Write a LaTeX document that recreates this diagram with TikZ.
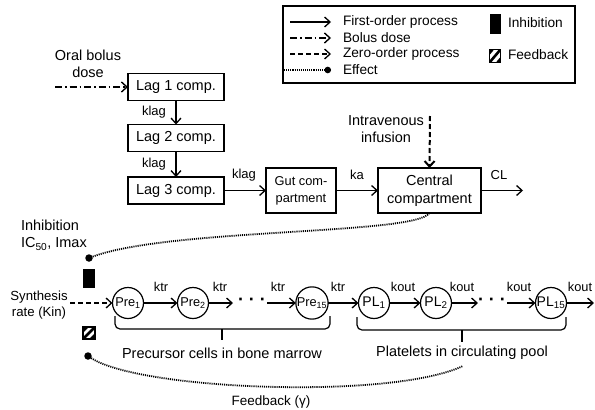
\documentclass[tikz,border=0pt]{standalone}
\usepackage{fontspec}
\setmainfont{Liberation Sans}
\usetikzlibrary{arrows.meta}
\begin{document}
\begin{tikzpicture}[x=1pt,y=-1pt,
  >={Straight Barb[length=5.5pt,width=10pt]},
  every node/.style={inner sep=0pt, outer sep=0pt},
  line/.style={line width=1.3pt},
  boxnode/.style={draw, line width=1.2pt, font=\fontsize{14.5}{18}\selectfont, align=center},
  circnode/.style={draw, circle, line width=1.2pt, minimum size=31pt, font=\fontsize{12.8}{14}\selectfont},
  ratelbl/.style={font=\fontsize{13}{15}\selectfont},
  smalllbl/.style={font=\fontsize{12.8}{14}\selectfont},
  txt/.style={font=\fontsize{14.5}{17.5}\selectfont, align=center},
  legtxt/.style={font=\fontsize{13.7}{15}\selectfont, anchor=west},
  bolus/.style={line width=1.4pt, dash pattern=on 7pt off 3pt on 1.5pt off 3pt},
  zero/.style={line width=1.3pt, dash pattern=on 5pt off 3pt},
  effect/.style={line width=1.8pt, dash pattern=on 1.1pt off 1pt},
  dotnode/.style={circle, fill=black, minimum size=7.5pt},
  hatchnode/.style={draw, line width=1.1pt, fill=white, minimum width=11pt, minimum height=13pt,
    path picture={
      \draw[line width=2.6pt] ([xshift=-8pt]path picture bounding box.south west) -- ([xshift=-8pt]path picture bounding box.north east);
      \draw[line width=2.6pt] (path picture bounding box.south west) -- (path picture bounding box.north east);
      \draw[line width=2.6pt] ([xshift=8pt]path picture bounding box.south west) -- ([xshift=8pt]path picture bounding box.north east);
    }},
]
\useasboundingbox (0,0) rectangle (595,410);

% ---------- legend ----------
\node[draw, line width=1.2pt, minimum width=292pt, minimum height=77pt, anchor=north west] (legend) at (283,6) {};
\coordinate (la1) at (290,22); \coordinate (lb1) at (331,22);
\coordinate (la2) at (290,38); \coordinate (lb2) at (331,38);
\coordinate (la3) at (290,54); \coordinate (lb3) at (331,54);
\coordinate (la4) at (284,70); \coordinate (lb4) at (331,70);
\draw[line,->] (la1) -- (lb1);
\draw[bolus,->] (la2) -- (lb2);
\draw[zero,->] (la3) -- (lb3);
\draw[effect,-{Circle[length=6.5pt]}] (la4) -- (lb4);
\node[legtxt] (lt1) at (343,22) {First-order process};
\node[legtxt] (lt2) at (343,38) {Bolus dose};
\node[legtxt] (lt3) at (343,54) {Zero-order process};
\node[legtxt] (lt4) at (343,70) {Effect};
\node[fill=black, minimum width=11pt, minimum height=20pt] (leginh) at (495,24) {};
\node[legtxt] (lt5) at (508,23) {Inhibition};
\node[hatchnode] (legfb) at (495,56) {};
\node[legtxt] (lt6) at (508,55) {Feedback};

% ---------- PK part ----------
\node[txt] (oral) at (88,64) {Oral bolus\\dose};
\coordinate (oralstart) at (55,87);
\node[boxnode, minimum width=96pt, minimum height=27pt] (lag1) at (176,87) {Lag 1 comp.};
\node[boxnode, minimum width=96pt, minimum height=27pt] (lag2) at (176,138) {Lag 2 comp.};
\node[boxnode, minimum width=96pt, minimum height=27pt] (lag3) at (176,190.5) {Lag 3 comp.};
\draw[bolus,->] (oralstart) -- (lag1.west);
\draw[line,->] (lag1) -- (lag2);
\draw[line,->] (lag2) -- (lag3);
\node[ratelbl] (kl1) at (154,112) {klag};
\node[ratelbl] (kl2) at (154,164) {klag};

\node[boxnode, minimum width=70pt, minimum height=45pt, font=\fontsize{12.8}{17}\selectfont] (gut) at (301,190.5) {Gut com-\\partment};
\node[boxnode, minimum width=103pt, minimum height=45pt] (central) at (429.5,190.5) {Central\\compartment};
\coordinate (clend) at (523,190.5);
\draw[line,->] (lag3) -- (gut);
\draw[line,->] (gut) -- (central);
\draw[line,->] (central) -- (clend);
\node[ratelbl] (kl3) at (244,175) {klag};
\node[ratelbl] (ka) at (357,175) {ka};
\node[ratelbl] (cl) at (499,175) {CL};

\node[txt] (iv) at (386,129) {Intravenous\\infusion};
\coordinate (ivstart) at (430,116);
\draw[zero, line width=2pt, ->] (ivstart) -- (central.north);

% ---------- effect ----------
\node[dotnode] (dot1) at (89,258) {};
\draw[effect] (central.south) .. controls (415,235) and (170,228) .. (dot1);
\node[txt, align=left, anchor=west] (inhtxt) at (21,235) {Inhibition\\IC\textsubscript{50}, Imax};
\node[fill=black, minimum width=12pt, minimum height=19pt] (inh) at (89,278.5) {};

% ---------- PD chain ----------
\node[txt, font=\fontsize{13.2}{15.5}\selectfont] (syn) at (39,305) {Synthesis\\rate (Kin)};
\coordinate (synstart) at (70,303);
\node[circnode] (pre1) at (128,303) {Pre\textsubscript{1}};
\node[circnode] (pre2) at (193,303) {Pre\textsubscript{2}};
\node[circnode] (pre15) at (312,303) {Pre\textsubscript{15}};
\node[circnode, font=\fontsize{14}{15}\selectfont] (pl1) at (374,303) {PL\textsubscript{1}};
\node[circnode, font=\fontsize{14}{15}\selectfont] (pl2) at (436,303) {PL\textsubscript{2}};
\node[circnode, font=\fontsize{14}{15}\selectfont] (pl15) at (551,303) {PL\textsubscript{15}};
\draw[zero,->] (synstart) -- (pre1.west);

\coordinate (c1) at (233,303); \coordinate (c2) at (267,303);
\coordinate (c3) at (478,303); \coordinate (c4) at (507,303);
\coordinate (c5) at (594,303);
\node[font=\fontsize{18}{18}\selectfont\bfseries] (dots1) at (252,302) {· · ·};
\node[font=\fontsize{18}{18}\selectfont\bfseries] (dots2) at (492,302) {· · ·};

\draw[line,->] (pre1) -- (pre2);
\draw[line,->] (pre2) -- (c1);
\draw[line,->] (c2) -- (pre15);
\draw[line,->] (pre15) -- (pl1);
\draw[line,->] (pl1) -- (pl2);
\draw[line,->] (pl2) -- (c3);
\draw[line,->] (c4) -- (pl15);
\draw[line,->] (pl15) -- (c5);

\node[smalllbl] (r1) at (161,287) {ktr};
\node[smalllbl] (r2) at (220,287) {ktr};
\node[smalllbl] (r3) at (278,287) {ktr};
\node[smalllbl] (r4) at (338,287) {ktr};
\node[smalllbl] (r5) at (403,287) {kout};
\node[smalllbl] (r6) at (462,287) {kout};
\node[smalllbl] (r7) at (519,287) {kout};
\node[smalllbl] (r8) at (580,287) {kout};

% ---------- braces ----------
\coordinate (b1l) at (115,316); \coordinate (b1m) at (222,329); \coordinate (b1r) at (330,316); \coordinate (b1t) at (222,340);
\coordinate (b2l) at (357,317); \coordinate (b2m) at (462,330); \coordinate (b2r) at (566,317); \coordinate (b2t) at (462,342);
\draw[line width=1.2pt, rounded corners=5pt] (b1l) |- (b1m) -| (b1r);
\draw[line width=1.2pt] (b1m) -- (b1t);
\draw[line width=1.2pt, rounded corners=5pt] (b2l) |- (b2m) -| (b2r);
\draw[line width=1.2pt] (b2m) -- (b2t);
\node[txt] (prelbl) at (222,353) {Precursor cells in bone marrow};
\node[txt] (pllbl) at (462,353) {Platelets in circulating pool};

% ---------- feedback ----------
\node[hatchnode, minimum width=12pt, minimum height=12pt] (fb) at (89,333) {};
\node[dotnode] (dot2) at (88,356) {};
\coordinate (fbend) at (463,366);
\draw[effect] (dot2) .. controls (140,390) and (390,400) .. (fbend);
\node[txt, font=\fontsize{13.5}{15}\selectfont] (fblbl) at (271,402) {Feedback (γ)};
\end{tikzpicture}
\end{document}
